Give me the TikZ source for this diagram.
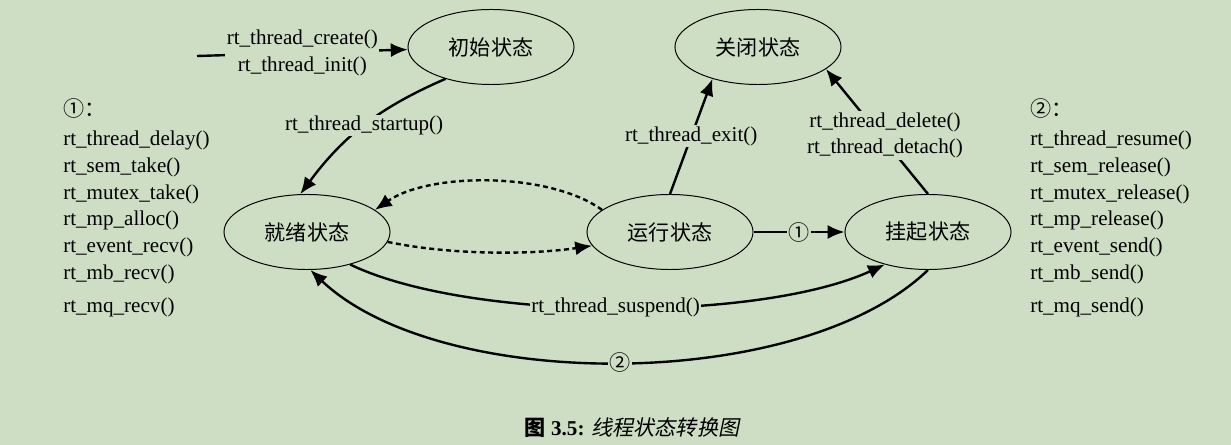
\documentclass[tikz,border=0pt]{standalone}
\usepackage{fontspec}
\setmainfont{Liberation Serif}
\newfontfamily\cjk{Noto Sans CJK SC}
\newfontfamily\cjkslant[FakeSlant=0.2]{Noto Sans CJK SC}
\usetikzlibrary{shapes.geometric,arrows.meta}
\definecolor{bgc}{RGB}{206,222,196}
\newcommand\figfont{\fontsize{15}{19}\selectfont}

\begin{document}
\begin{tikzpicture}[x=0.025cm,y=-0.025cm,>={Latex[length=12pt,width=10pt]},font=\figfont,
    state/.style={ellipse,draw,line width=0.7pt,minimum width=4.15cm,minimum height=1.875cm,font=\figfont\cjk},
    trans/.style={->,line width=1.7pt},
    lbl/.style={fill=bgc,inner sep=1pt}]
    \fill[bgc] (0,0) rectangle (1231,445);
    \useasboundingbox (0,0) rectangle (1231,445);
    % states
    \node[state] (init) at (491,47) {初始状态};
    \node[state] (close) at (758,47) {关闭状态};
    \node[state] (ready) at (307,232) {就绪状态};
    \node[state] (run) at (670,232) {运行状态};
    \node[state] (susp) at (928,232) {挂起状态};
    % transitions
    \coordinate (entry) at (197,56);
    \draw[trans] (entry) -- node[lbl,align=center]{rt\_thread\_create()\\rt\_thread\_init()} (init);
    \draw[trans] (init.-145) to[bend right=15] node[lbl]{rt\_thread\_startup()} (ready.100);
    \draw[trans,dash pattern=on 3.5pt off 2.5pt] (ready.-7) .. controls (450,255) and (530,255) .. (run.190);
    \draw[trans,dash pattern=on 3.5pt off 2.5pt] (run.162) .. controls (550,172) and (430,172) .. (ready.18);
    \draw[trans] (run.north) -- node[lbl]{rt\_thread\_exit()} (close.-145);
    \draw[trans] (susp.north) -- node[lbl,align=center,xshift=0.2cm,yshift=-0.1cm]{rt\_thread\_delete()\\rt\_thread\_detach()} (close.-18);
    \draw[trans] (run) -- node[lbl]{\cjk ①} (susp);
    \draw[trans] (ready.-37) .. controls (470,322) and (760,322) .. node[lbl]{rt\_thread\_suspend()} (susp.-143);
    \draw[trans] (susp.south) .. controls (800,393) and (440,393) .. node[lbl]{\cjk ②} (ready.-85);
    % function lists
    \node[anchor=north west,align=left,inner sep=0pt] (list1) at (63,98) {{\cjk ①：}\\[2pt]
        rt\_thread\_delay()\\rt\_sem\_take()\\rt\_mutex\_take()\\rt\_mp\_alloc()\\
        rt\_event\_recv()\\rt\_mb\_recv()\\[5pt]rt\_mq\_recv()};
    \node[anchor=north west,align=left,inner sep=0pt] (list2) at (1030,98) {{\cjk ②：}\\[2pt]
        rt\_thread\_resume()\\rt\_sem\_release()\\rt\_mutex\_release()\\rt\_mp\_release()\\
        rt\_event\_send()\\rt\_mb\_send()\\[5pt]rt\_mq\_send()};
    % caption
    \node (cap) at (632,428) {{\bfseries\cjk 图}\ {\bfseries 3.5:} {\cjkslant 线程状态转换图}};
\end{tikzpicture}
\end{document}
